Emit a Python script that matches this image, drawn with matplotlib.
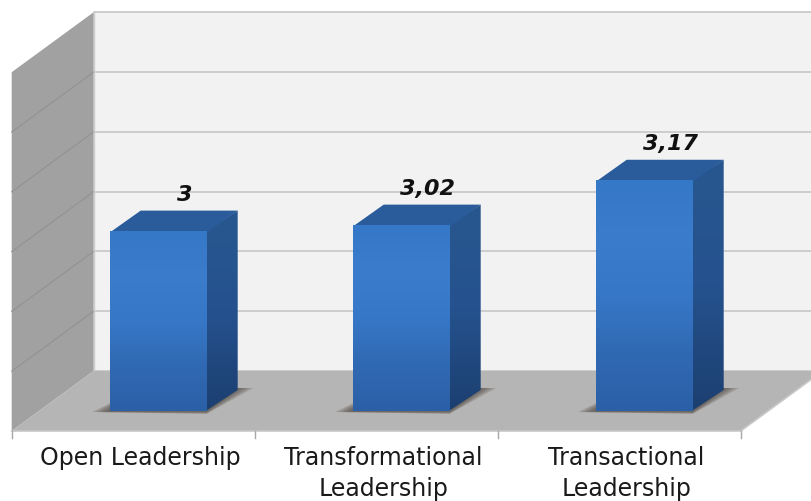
import numpy as np
import matplotlib
matplotlib.use('Agg')
import matplotlib.pyplot as plt
from matplotlib.colors import LinearSegmentedColormap
from matplotlib.patches import Polygon

categories = ['Open Leadership', 'Transformational\nLeadership', 'Transactional\nLeadership']
values = [3, 3.02, 3.17]
value_labels = ['3', '3,02', '3,17']
grid_values = [2.4, 2.6, 2.8, 3.0, 3.2, 3.4, 3.6]

# one x unit is one category slot, one y unit is one value unit
W, H = 812, 501
px_x = 243.0
px_y = 299.0
x_left = -133.2 / px_x
y_bottom = 2.4 - (501 - 411) / px_y
y_base = 2.4

depth_x = 82 / px_x
depth_y = 60 / px_y
front_y = -20 / px_y
bar_shift = 25 / px_x
bar_w = 97 / px_x
bar_dx = 31 / px_x
bar_dy = 21 / px_y

fig = plt.figure(figsize=(W / 100, H / 100), dpi=100)
ax = fig.add_axes([0, 0, 1, 1])
ax.axis('off')

x0 = -0.5
x1 = 2.5
back_base = y_base + front_y + depth_y
top = grid_values[-1]

# walls and floor
ax.add_patch(Polygon([(x0 + depth_x, back_base), (x1 + depth_x + 1, back_base),
                      (x1 + depth_x + 1, top + front_y + depth_y), (x0 + depth_x, top + front_y + depth_y)],
                     fc='#f2f2f2', ec='none', zorder=1))
ax.add_patch(Polygon([(x0, y_base + front_y), (x0 + depth_x, back_base),
                      (x0 + depth_x, top + front_y + depth_y), (x0, top + front_y)],
                     fc='#a1a1a1', ec='none', zorder=1))
ax.add_patch(Polygon([(x0, y_base + front_y), (x1, y_base + front_y),
                      (x1 + depth_x, back_base), (x0 + depth_x, back_base)],
                     fc='#b5b5b5', ec='none', zorder=2))

for v in grid_values:
    yb = v + front_y + depth_y
    ax.plot([x0 + depth_x, x1 + depth_x + 1], [yb, yb], color='#c6c6c6', lw=1.2, zorder=1.5)
    if grid_values[0] < v < grid_values[-1]:
        ax.plot([x0, x0 + depth_x], [v + front_y, yb], color='#929292', lw=0.8, zorder=1.5)
ax.plot([x0 + depth_x, x0 + depth_x], [back_base, top + front_y + depth_y], color='#cdcdcd', lw=1.0, zorder=1.6)

# axis line and ticks
ax.plot([x0, x1, x1 + depth_x], [y_base + front_y, y_base + front_y, back_base], color='#c8c8c8', lw=1.2, zorder=3)
for t in np.arange(4):
    ax.plot([x0 + t, x0 + t], [y_base + front_y, y_base + front_y - 7 / px_y], color='#a8a8a8', lw=1.0, zorder=3)

front_cm = LinearSegmentedColormap.from_list('front', ['#2b60a6', '#3069b3', '#3777c7', '#3b7ccd', '#3678c8'])
side_cm = LinearSegmentedColormap.from_list('side', ['#1c3f70', '#25528e', '#28578f'])
grad = np.linspace(0, 1, 256).reshape(-1, 1)

for i, v in enumerate(values):
    xl = i + bar_shift - bar_w / 2
    xr = xl + bar_w

    # soft shadow on the floor
    for g in np.linspace(1, 0, 8):
        ax.add_patch(Polygon([(xl - (4 + 14 * g) / px_x, y_base - 1 / px_y),
                              (xr, y_base - (1 + 2 * g) / px_y),
                              (xr + bar_dx + (2 + 14 * g) / px_x, y_base + bar_dy + 2 / px_y),
                              (xl + bar_dx, y_base + bar_dy + 2 / px_y)],
                             fc='#50463e', ec='none', alpha=0.13, zorder=3))

    # right face, starts a pixel under the front so no seam shows
    side_pts = [(xr - 1 / px_x, y_base), (xr + bar_dx, y_base + bar_dy),
                (xr + bar_dx, v + bar_dy), (xr - 1 / px_x, v)]
    side_img = ax.imshow(grad, cmap=side_cm, origin='lower', aspect='auto',
                         extent=(xr - 1 / px_x, xr + bar_dx, y_base, v + bar_dy), zorder=4.5, interpolation='bilinear')
    side_clip = Polygon(side_pts, transform=ax.transData, fc='none', ec='none')
    ax.add_patch(side_clip)
    side_img.set_clip_path(side_clip)

    # top face
    ax.add_patch(Polygon([(xl, v - 1 / px_y), (xr, v - 1 / px_y), (xr + bar_dx, v + bar_dy), (xl + bar_dx, v + bar_dy)],
                         fc='#2a5c9c', ec='none', zorder=4.6))

    # front face
    ax.imshow(grad, cmap=front_cm, origin='lower', aspect='auto',
              extent=(xl, xr, y_base, v), zorder=5, interpolation='bilinear')

    ax.text(i + bar_shift + bar_dx / 2 + 11 / px_x, v + bar_dy + 6 / px_y, value_labels[i], ha='center', va='bottom',
            fontsize=16, fontweight='bold', fontstyle='italic', color='#111111', zorder=6)

for i, c in enumerate(categories):
    ax.text(i + 0.03, y_base + front_y - 15 / px_y, c, ha='center', va='top', fontsize=17,
            color='#1a1a1a', linespacing=1.38, zorder=6)

ax.set_xlim(x_left, x_left + W / px_x)
ax.set_ylim(y_bottom, y_bottom + H / px_y)

fig.savefig('out.png', dpi=100)
